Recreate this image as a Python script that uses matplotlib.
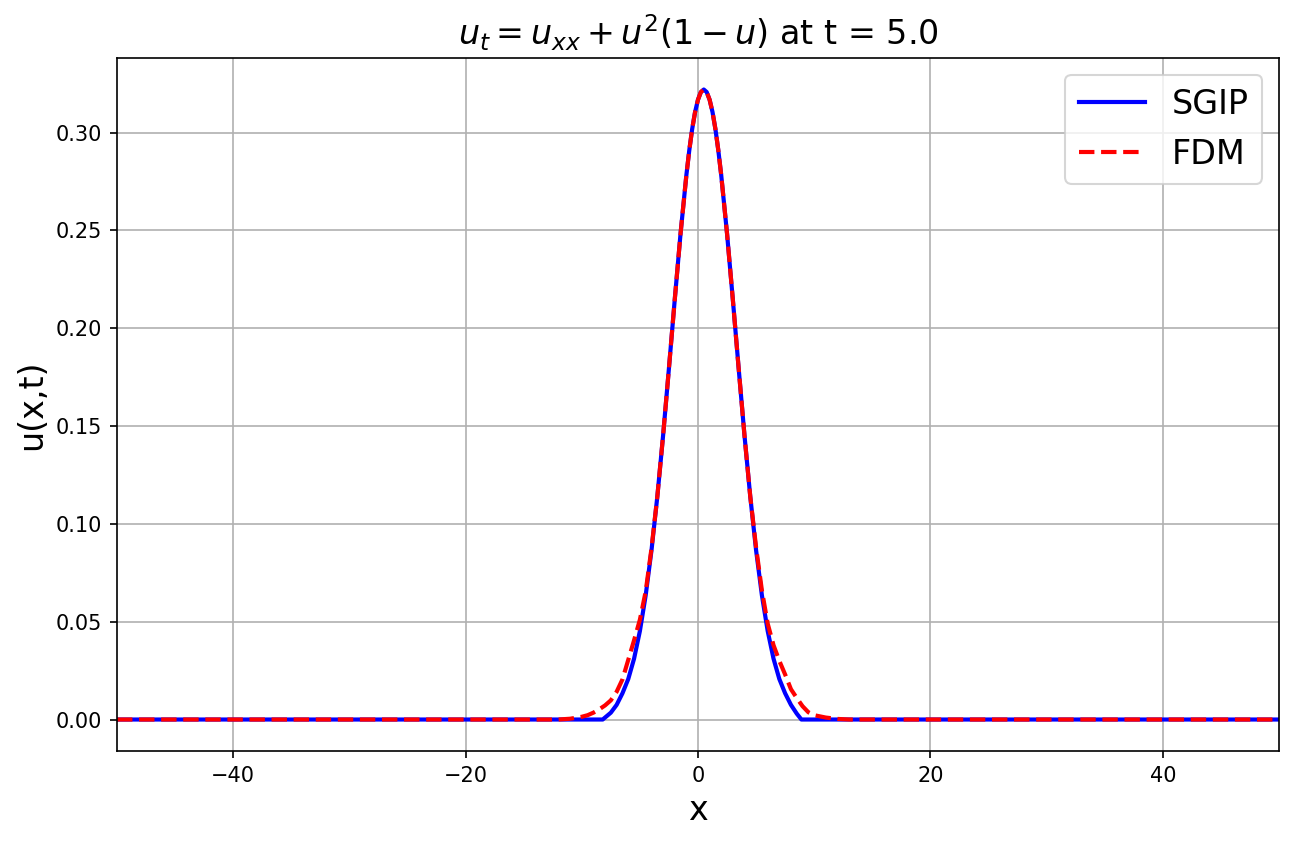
import numpy as np
import matplotlib
matplotlib.use('Agg')
import matplotlib.pyplot as plt

# values
sgip_x = [-50, -8.2, -8.0, -7.5, -7.0, -6.5, -6.0, -5.5, -5.0, -4.5, -4.0, -3.5, -3.0, -2.5,
          -2.0, -1.5, -1.0, -0.75, -0.5, -0.25, 0.0, 0.25, 0.5, 0.75, 1.0, 1.25, 1.5, 1.75,
          2.0, 2.5, 3.0, 3.5, 4.0, 4.5, 5.0, 5.5, 6.0, 6.5, 7.0, 7.5, 8.0, 8.5, 8.9, 50]
sgip_u = [0.0, 0.0, 0.001, 0.0035, 0.0075, 0.0134, 0.0207, 0.0311, 0.0452, 0.0635, 0.0865, 0.1139, 0.1453, 0.1795,
          0.2146, 0.2484, 0.2782, 0.2909, 0.3018, 0.3105, 0.3168, 0.3207, 0.322, 0.3207, 0.3168, 0.3105, 0.3018, 0.2909,
          0.2782, 0.2484, 0.2146, 0.1795, 0.1453, 0.1139, 0.0865, 0.0635, 0.0452, 0.0311, 0.0207, 0.0134, 0.0075, 0.003,
          0.0, 0.0]

fdm_x = [-50, -12.0, -11.0, -10.0, -9.5, -9.0, -8.5, -8.0, -7.5, -7.0, -6.5, -6.0, -5.5, -5.0,
         -4.5, -4.0, -3.5, -3.0, -2.5, -2.0, -1.5, -1.0, -0.75, -0.5, -0.25, 0.0, 0.25, 0.5,
         0.75, 1.0, 1.25, 1.5, 1.75, 2.0, 2.5, 3.0, 3.5, 4.0, 4.5, 5.0, 5.5, 6.0,
         6.5, 7.0, 7.5, 8.0, 8.5, 9.0, 9.5, 10.0, 11.0, 12.0, 13.0, 50]
fdm_u = [0.0, 0.0, 0.0004, 0.0014, 0.0022, 0.0035, 0.0052, 0.0072, 0.0098, 0.0142, 0.0205, 0.0305, 0.0405, 0.051,
         0.0655, 0.0875, 0.1139, 0.1453, 0.1795, 0.2146, 0.2484, 0.2782, 0.2909, 0.3018, 0.3105, 0.3168, 0.3207, 0.322,
         0.3207, 0.3168, 0.3105, 0.3018, 0.2909, 0.2782, 0.2484, 0.2146, 0.1795, 0.1453, 0.1139, 0.088, 0.066, 0.049,
         0.038, 0.030, 0.023, 0.0155, 0.011, 0.0068, 0.0037, 0.0022, 0.0010, 0.0003, 0.0, 0.0]

t_final = 5.0

fig = plt.figure(figsize=(1294 / 150, 841 / 150), dpi=150)
ax = fig.add_subplot(111)
fig.subplots_adjust(left=0.0904, right=0.9884, top=0.931, bottom=0.107)

ax.plot(sgip_x, sgip_u, color='blue', linestyle='-', linewidth=2, label='SGIP')
ax.plot(fdm_x, fdm_u, color='red', linestyle='--', linewidth=2, label='FDM')

ax.set_xlim(-50, 50)
ax.set_xlabel('x', fontsize=16)
ax.set_ylabel('u(x,t)', fontsize=16)
ax.set_title(r'$u_t = u_{xx} + u^2(1 - u)$ at t = %.1f' % t_final, fontsize=16)
ax.legend(fontsize=16)
ax.grid(True)

plt.savefig('out.png', dpi=150)
plt.close()
